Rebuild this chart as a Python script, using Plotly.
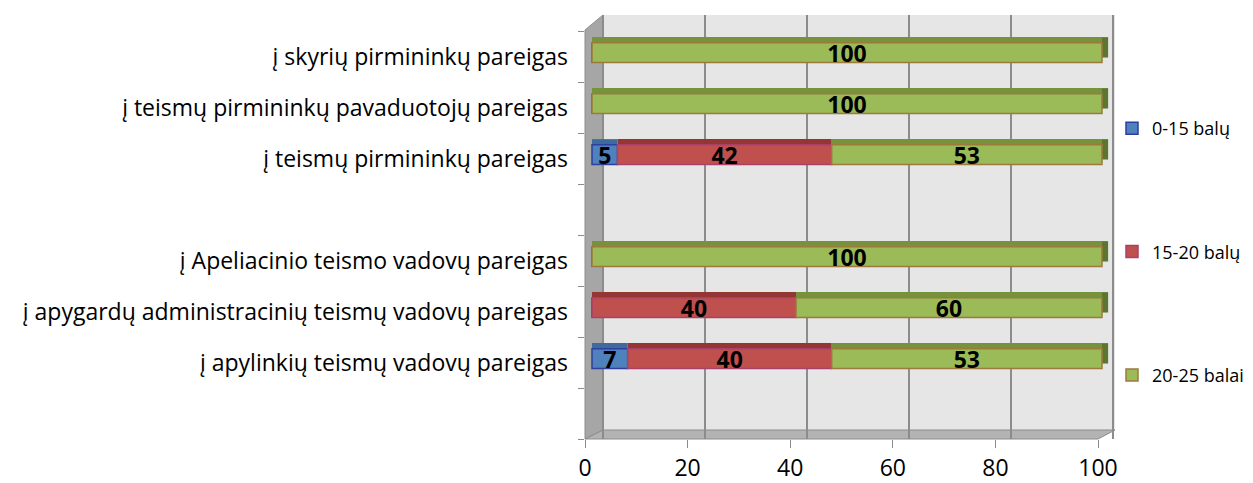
import plotly.graph_objects as go

# ---- data (bottom to top) ----
categories = [
    "",
    "į apylinkių teismų vadovų pareigas",
    "į apygardų administracinių teismų vadovų pareigas",
    "į Apeliacinio teismo vadovų pareigas",
    " ",
    "į teismų pirmininkų pareigas",
    "į teismų pirmininkų pavaduotojų pareigas",
    "į skyrių pirmininkų pareigas",
]
series_names = ["0-15 balų", "15-20 balų", "20-25 balai"]
s_0_15 = [None, 7, 0, 0, None, 5, 0, 0]
s_15_20 = [None, 40, 40, 0, None, 42, 0, 0]
s_20_25 = [None, 53, 60, 100, None, 53, 100, 100]
x_ticks = [0, 20, 40, 60, 80, 100]

# ---- styling ----
front_colors = ["#4F81BD", "#C0504D", "#9BBB59"]
edge_colors = ["#2E3F9E", "#A8406A", "#9C7A3C"]
top_colors = ["#3F6AA0", "#943634", "#76923C"]
side_color = "#5E7530"
side_depth = 1.2
FONT = "Open Sans"

series = [s_0_15, s_15_20, s_20_25]

def add(a, b):
    return [None if (x is None or y is None) else x + y for x, y in zip(a, b)]

zeros = [None if v is None else 0 for v in s_0_15]
bases = [zeros, add(zeros, s_0_15), add(add(zeros, s_0_15), s_15_20)]
totals = add(bases[2], s_20_25)

fig = go.Figure()

# top faces (pseudo-3D)
for vals, base, col in zip(series, bases, top_colors):
    fig.add_trace(go.Bar(
        y=categories, x=vals, base=base, orientation="h",
        width=0.11, offset=0.27,
        marker=dict(color=col, line=dict(width=0)),
        showlegend=False, hoverinfo="skip", xaxis="x",
    ))

# right end faces (pseudo-3D)
fig.add_trace(go.Bar(
    y=categories, x=[None if t is None else side_depth for t in totals], base=totals,
    orientation="h", width=0.4, offset=-0.02,
    marker=dict(color=side_color, line=dict(width=0)),
    showlegend=False, hoverinfo="skip", xaxis="x",
))

# front faces
for name, vals, base, col, edge in zip(series_names, series, bases, front_colors, edge_colors):
    fig.add_trace(go.Bar(
        y=categories, x=vals, base=base, orientation="h",
        width=0.39, offset=-0.12,
        name=name, legendgroup=name,
        marker=dict(color=col, line=dict(color=edge, width=1.5)),
        text=["" if (v is None or v == 0) else str(v) for v in vals],
        textposition="inside", insidetextanchor="middle", textangle=0,
        constraintext="none",
        textfont=dict(family=FONT, size=23, color="black", weight="bold"),
        xaxis="x",
    ))

# dummy traces so the overlay axes are drawn
fig.add_trace(go.Scatter(x=[None], y=[None], xaxis="x2", showlegend=False, hoverinfo="skip"))
fig.add_trace(go.Scatter(x=[None], y=[None], xaxis="x3", showlegend=False, hoverinfo="skip"))

# geometry (reference pixels; page body adds an 8px offset)
OFF = 8
W, H = 1253 - OFF, 483 - OFF
L, R, T, B = 585 - OFF, 1115 - OFF, 15 - OFF, 439 - OFF
pw, ph = R - L, B - T

def px(x):
    return (x - OFF - L) / pw

def py(y):
    return (B - (y - OFF)) / ph

wall_x = 603
floor_y = 430
front_right = 1098

shapes = [
    # back wall
    dict(type="rect", xref="paper", yref="paper", x0=px(wall_x), x1=px(1115), y0=py(floor_y), y1=py(15),
         fillcolor="#E6E6E6", line=dict(width=0), layer="below"),
    # left wall
    dict(type="path", xref="paper", yref="paper",
         path=f"M {px(585)},{py(30)} L {px(wall_x)},{py(15)} L {px(wall_x)},{py(floor_y)} L {px(585)},{py(439)} Z",
         fillcolor="#A6A6A6", line=dict(color="#8C8C8C", width=1), layer="below"),
    # floor
    dict(type="path", xref="paper", yref="paper",
         path=f"M {px(585)},{py(439)} L {px(wall_x)},{py(floor_y)} L {px(1115)},{py(floor_y)} L {px(front_right)},{py(439)} Z",
         fillcolor="#B3B3B3", line=dict(color="#8C8C8C", width=1), layer="between"),
]

fig.update_layout(
    width=W, height=H,
    margin=dict(l=L, r=W - R, t=T, b=H - B, pad=0, autoexpand=False),
    paper_bgcolor="white", plot_bgcolor="white",
    barmode="overlay",
    font=dict(family=FONT, size=20, color="black"),
    shapes=shapes,
    xaxis=dict(range=[-(592 - 585) / 5.1, (1115 - 592) / 5.1], showgrid=False, showticklabels=False,
               zeroline=False, ticks="", showline=False),
    xaxis2=dict(overlaying="x", range=[-(wall_x - 585) / 5.12, 100.3], showgrid=True,
                gridcolor="#8C8C8C", gridwidth=2, tickvals=x_ticks, showticklabels=False,
                zeroline=False, ticks="", showline=False),
    xaxis3=dict(overlaying="x", side="bottom", range=[0, pw / 5.13], showgrid=False,
                tickvals=x_ticks, ticks="outside", ticklen=8, tickcolor="#8C8C8C", tickwidth=1,
                tickfont=dict(family=FONT, size=23, color="black"), zeroline=False, showline=False),
    yaxis=dict(type="category", categoryorder="array", categoryarray=categories,
               range=[-0.5, 7.5 + (31 - 15) / 51], tickson="boundaries", ticks="outside",
               ticklen=6, tickcolor="#8C8C8C", showgrid=False, zeroline=False, showline=False,
               tickfont=dict(family=FONT, size=23, color="black"), ticklabelstandoff=16),
    legend=dict(x=px(1112), y=py(110), xanchor="left", yanchor="top",
                traceorder="grouped", tracegroupgap=97,
                font=dict(family=FONT, size=18, color="black"), itemwidth=30,
                bgcolor="rgba(0,0,0,0)"),
    showlegend=True,
)

fig.write_html("out.html")
